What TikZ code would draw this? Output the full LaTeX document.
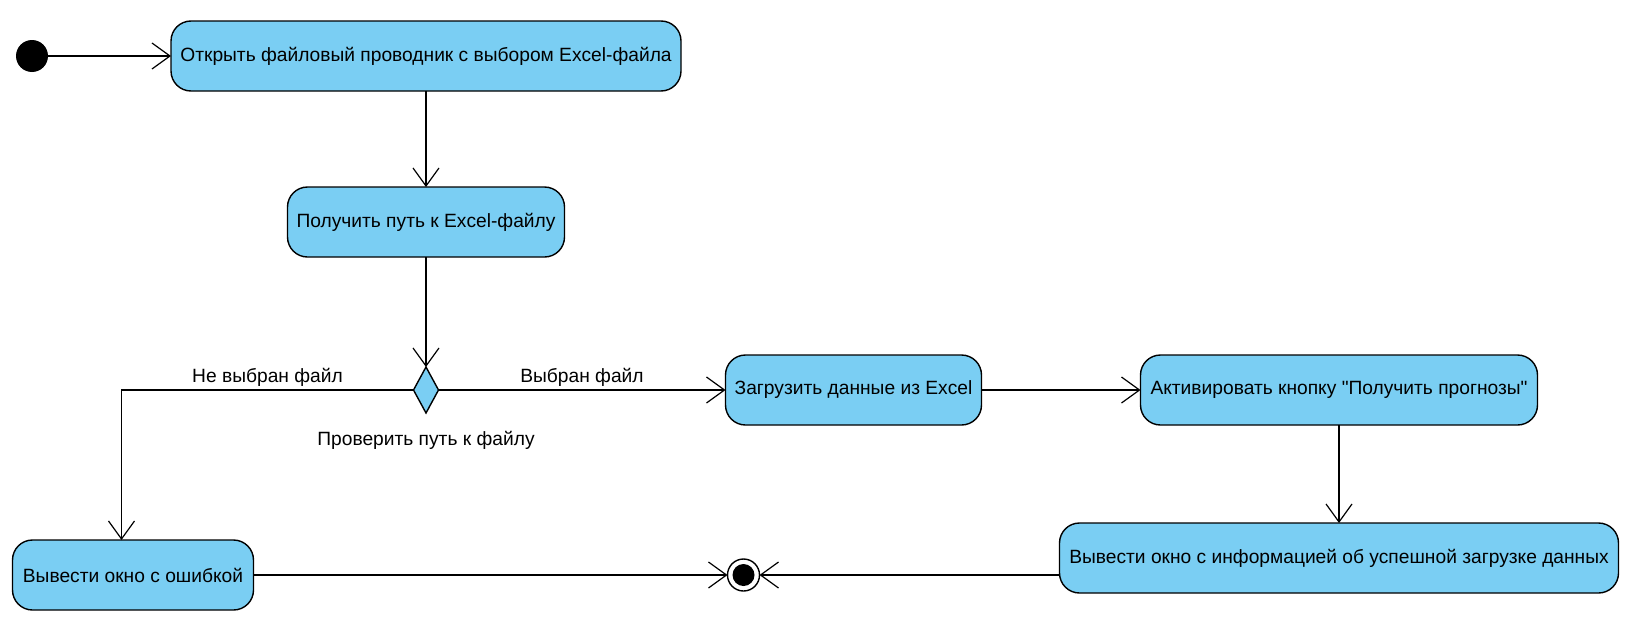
\documentclass[tikz,border=0pt]{standalone}
\usepackage{fontspec}
\setmainfont{Liberation Sans}[Ligatures=TeXOff]
\usepackage{tikz}
\usetikzlibrary{arrows.meta, positioning, shapes.geometric}
\definecolor{actblue}{RGB}{122,206,243}

\begin{document}
\begin{tikzpicture}[node distance=48pt, font=\fontsize{9.6}{11.5}\selectfont]
\tikzset{every node/.style={outer sep=0mm}}

\tikzstyle{action}=[rectangle, rounded corners=10pt, draw=black, fill=actblue, minimum height=35pt, inner sep=2pt, line width=0.7pt]
\tikzstyle{decision}=[diamond, draw=black, fill=actblue, minimum width=12.5pt, minimum height=23pt, inner sep=0pt, line width=0.7pt]
\tikzstyle{startnode}=[circle, fill=black, minimum size=16pt, inner sep=0pt]
\tikzstyle{endnode}=[circle, draw=black, fill=white, minimum size=16pt, inner sep=0pt, line width=0.7pt, path picture={\fill[black] (path picture bounding box.center) circle (5.5pt);}]
\tikzstyle{flowlabel}=[inner sep=2pt]
\tikzstyle{post}=[->, line width=0.6pt, >={Straight Barb[length=9pt, width=13pt]}]

\useasboundingbox (0,0) rectangle (812.5pt,-310.5pt);

\node[startnode] (start) at (16pt,-28pt) {};
\node[action, minimum width=255pt, right=61.5pt of start] (open) {Открыть файловый проводник с выбором Excel-файла};
\node[action, minimum width=138.5pt, below=48pt of open] (getpath) {Получить путь к Excel-файлу};

\node[decision, below=55pt of getpath] (check) {};
\node[flowlabel, below=7pt of check] (check label) {Проверить путь к файлу};

\node[action, minimum width=128pt, right=143.5pt of check] (load) {Загрузить данные из Excel};
\node[action, minimum width=198.5pt, right=79.5pt of load] (activate) {Активировать кнопку "Получить прогнозы"};
\node[action, minimum width=279.5pt, below=49pt of activate] (success) {Вывести окно с информацией об успешной загрузке данных};

\coordinate[left=146pt of check] (corner);
\node[action, minimum width=120.5pt, below=75pt of corner, xshift=5.75pt] (error) {Вывести окно с ошибкой};
\node[endnode, right=237pt of error] (end) {};

\path[post] (start) edge (open);
\path[post] (open) edge (getpath);
\path[post] (getpath) edge (check);
\path[post] (check) edge node[flowlabel, above] {Выбран файл} (load);
\draw[post] (check) -- node[flowlabel, above] {Не выбран файл} (corner) -- (corner |- error.north);
\path[post] (load) edge (activate);
\path[post] (activate) edge (success);
\path[post] (error) edge (end);
\draw[post] (end -| success.west) -- (end);

\end{tikzpicture}
\end{document}
